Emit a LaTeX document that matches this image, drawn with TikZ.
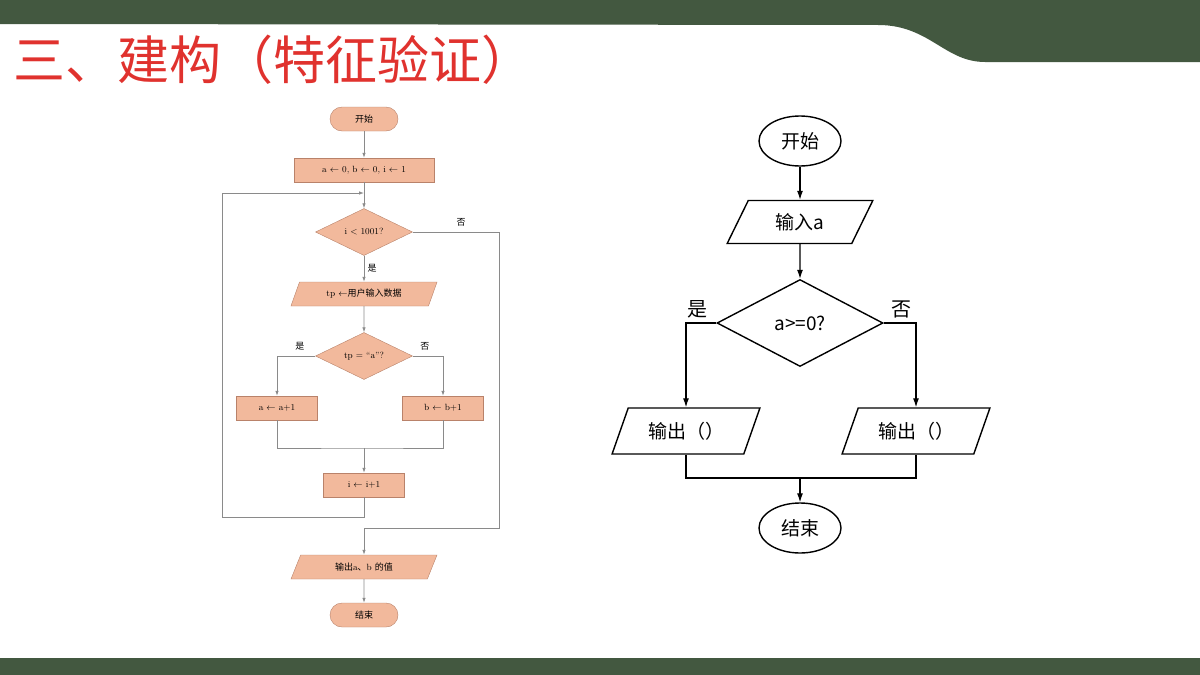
\documentclass[tikz,border=0pt]{standalone}
\usepackage{fontspec}
\newfontfamily\cjk{Noto Sans CJK SC}
\usetikzlibrary{shapes.geometric,arrows.meta}
\definecolor{barGreen}{HTML}{435840}
\definecolor{peach}{HTML}{F2B99C}
\definecolor{peachEdge}{HTML}{B9826A}
\definecolor{lineGrey}{HTML}{8A8A8A}
\definecolor{titleRed}{HTML}{E0322E}
\tikzset{
  box/.style={draw=peachEdge, fill=peach, minimum height=24pt, inner sep=0pt, font=\fontsize{9}{10}\selectfont},
  term/.style={box, rounded corners=12pt, minimum width=68pt},
  proc/.style={box, minimum width=140pt},
  small/.style={box, minimum width=81pt},
  dec/.style={box, diamond, aspect=2.06, minimum width=97pt, minimum height=47pt},
  io/.style={box, trapezium, trapezium left angle=62, trapezium right angle=118, trapezium stretches=true, minimum width=147pt},
  flow/.style={draw=lineGrey, line width=0.8pt},
  arr/.style={flow, -{Latex[length=5pt,width=3.5pt]}},
  rbox/.style={draw, line width=1.4pt, fill=white, font=\cjk\fontsize{19}{22}\selectfont},
  rterm/.style={rbox, ellipse, minimum width=82pt, minimum height=50pt},
  rio/.style={rbox, trapezium, trapezium left angle=65, trapezium right angle=115, trapezium stretches=true},
  rflow/.style={draw, line width=1.1pt},
  rarr/.style={rflow, -{Latex[length=9pt,width=6pt]}},
  lab/.style={font=\cjk\fontsize{9}{10}\selectfont},
  rlab/.style={font=\cjk\fontsize{20}{22}\selectfont}
}
\begin{document}
\begin{tikzpicture}[x=1pt, y=-1pt]
\useasboundingbox (0,0) rectangle (1200,675);
% frame of the slide
\fill[barGreen] (0,0) -- (1200,0) -- (1200,62) -- (985,62)
  .. controls (945,62) and (930,26) .. (880,25) -- (0,24) -- cycle;
\fill[barGreen] (0,658) rectangle (1200,675);
\node[anchor=west, text=titleRed, font=\cjk\fontsize{52}{56}\selectfont] (title) at (10,60) {三、建构（特征验证）};

% left flow chart
\node[term] (start) at (364,119) {\cjk 开始};
\node[proc] (init) at (364,170) {a $\leftarrow$ 0, b $\leftarrow$ 0, i $\leftarrow$ 1};
\node[dec] (loop) at (364,232) {i $<$ 1001?};
\node[io] (read) at (364,294) {tp $\leftarrow${\cjk 用户输入数据}};
\node[dec] (test) at (364,356) {tp = ``a''?};
\node[small] (inca) at (277,408) {a $\leftarrow$ a+1};
\node[small] (incb) at (443,408) {b $\leftarrow$ b+1};
\node[small] (inci) at (364,485) {i $\leftarrow$ i+1};
\node[io] (show) at (364,567) {{\cjk 输出}a{\cjk 、}b {\cjk 的值}};
\node[term] (stop) at (364,615) {\cjk 结束};
\coordinate (back) at (364,193);
\coordinate (join) at (364,448);
\coordinate (done) at (364,528);

\draw[arr] (start) -- (init);
\draw[arr] (init) -- (loop);
\draw[arr] (loop) -- node[lab, right] {是} (read);
\draw[arr] (read) -- (test);
\draw[arr] (test.west) -| node[lab, pos=0.2, above=2pt] {是} (inca);
\draw[arr] (test.east) -| node[lab, pos=0.2, above=2pt] {否} (incb);
\draw[flow] (inca) |- (join) -| (incb);
\draw[arr] (join) -- (inci);
\draw[arr] (inci.south) |- (222,517) |- (back);
\draw[flow] (loop.east) -| node[lab, pos=0.5, above=2pt, xshift=-38pt] {否} (499,528) -- (done);
\draw[arr] (done) -- (show);
\draw[arr] (show) -- (stop);

% right flow chart
\node[rterm] (rstart) at (800,141) {开始};
\node[rio, minimum width=146pt, minimum height=43pt] (rin) at (800,222) {输入a};
\node[rbox, diamond, aspect=1.9, minimum width=166pt, minimum height=87pt, inner sep=0pt] (rtest) at (800,323) {a>=0?};
\node[rio, minimum width=148pt, minimum height=46pt] (routa) at (686,431) {输出（）};
\node[rio, minimum width=148pt, minimum height=46pt] (routb) at (916,431) {输出（）};
\node[rterm] (rstop) at (800,528) {结束};
\coordinate (rjoin) at (800,478);

\draw[rarr] (rstart) -- (rin);
\draw[rarr] (rin) -- (rtest);
\draw[rarr] (rtest.west) -| (routa);
\draw[rarr] (rtest.east) -| (routb);
\node[rlab] (ryes) at (697,309) {是};
\node[rlab] (rno) at (901,309) {否};
\draw[rflow] (routa) |- (rjoin) -| (routb);
\draw[rarr] (rjoin) -- (rstop);
\end{tikzpicture}
\end{document}
